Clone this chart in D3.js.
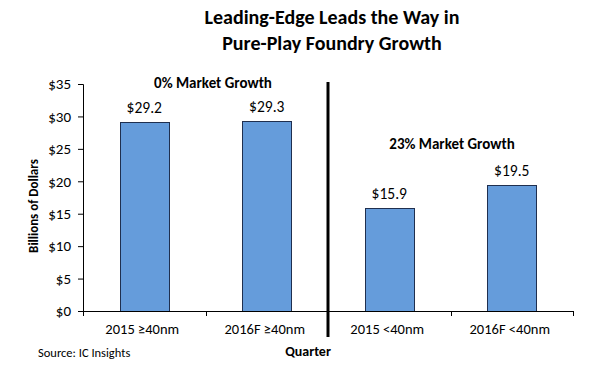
<!DOCTYPE html>
<html><head><meta charset="utf-8">
<script src="https://cdn.jsdelivr.net/npm/d3@7"></script>
<style>body{margin:0;background:#fff}svg{display:block}text{font-family:Carlito,Lato,"Open Sans",sans-serif;fill:#000}</style>
</head><body><svg id="c" width="600" height="365"></svg>
<script>
const categories = ["2015 \u226540nm", "2016F \u226540nm", "2015 <40nm", "2016F <40nm"];
const values = [29.2, 29.3, 15.9, 19.5];
const valueLabels = ["$29.2", "$29.3", "$15.9", "$19.5"];
const yTicks = [0, 5, 10, 15, 20, 25, 30, 35];
const titleLines = ["Leading-Edge Leads the Way in", "Pure-Play Foundry Growth"];
const groupNotes = ["0% Market Growth", "23% Market Growth"];

const svg = d3.select("#c");
const x = d3.scaleBand().domain(categories).range([83, 573]).paddingInner(0.6).paddingOuter(0.3);
const y = d3.scaleLinear().domain([0, 35]).range([311, 84]);

// title
svg.append("g").selectAll("text").data(titleLines).join("text")
  .attr("x", 332).attr("y", (d, i) => 24 + i * 26)
  .attr("text-anchor", "middle").style("font-weight", "bold").style("font-size", "20px").text(d => d);

// bars
svg.append("g").selectAll("rect").data(values).join("rect")
  .attr("x", (d, i) => Math.round(x(categories[i])) + 0.5)
  .attr("y", d => Math.round(y(d)) + 0.5)
  .attr("width", Math.round(x.bandwidth()))
  .attr("height", d => Math.round(y(0) - y(d)))
  .attr("fill", "#659CDB").attr("stroke", "#1F2F4F").attr("stroke-width", 1);

// value labels
svg.append("g").selectAll("text").data(values).join("text")
  .attr("x", (d, i) => x(categories[i]) + x.bandwidth() / 2)
  .attr("y", d => y(d) - 9)
  .attr("text-anchor", "middle").style("font-size", "15.5px").text((d, i) => valueLabels[i]);

// y axis
const yAxis = svg.append("g").attr("transform", "translate(83,0)")
  .call(d3.axisLeft(y).tickValues(yTicks).tickFormat(d => "$" + d).tickSize(5).tickPadding(7));
yAxis.select(".domain").attr("stroke", "#000");
yAxis.selectAll("line").attr("stroke", "#000");
yAxis.selectAll("text").style("font-size", "15px").style("font-family", "Carlito,Lato,'Open Sans',sans-serif");

// x axis
const edges = categories.map(c => x(c) - x.step() * x.paddingInner() / 2).concat([573]);
edges[0] = 83;
const xg = svg.append("g");
xg.append("line").attr("x1", 78).attr("x2", 573).attr("y1", 311.5).attr("y2", 311.5).attr("stroke", "#000");
xg.selectAll("line.t").data(edges).join("line").attr("class", "t")
  .attr("x1", d => Math.round(d) + 0.5).attr("x2", d => Math.round(d) + 0.5)
  .attr("y1", 311).attr("y2", 316).attr("stroke", "#000");
xg.selectAll("text").data(categories).join("text")
  .attr("x", d => x(d) + x.bandwidth() / 2 - 2).attr("y", 334)
  .attr("text-anchor", "middle").style("font-size", "14.5px").text(d => d);

// divider
const divX = Math.round(edges[2]);
svg.append("line").attr("x1", divX).attr("x2", divX).attr("y1", 82).attr("y2", 337)
  .attr("stroke", "#000").attr("stroke-width", 3);

// group notes
svg.append("text").attr("x", 213).attr("y", 88).attr("text-anchor", "middle")
  .style("font-weight", "bold").style("font-size", "15px").text(groupNotes[0]);
svg.append("text").attr("x", 452).attr("y", 149).attr("text-anchor", "middle")
  .style("font-weight", "bold").style("font-size", "15px").text(groupNotes[1]);

// axis titles
svg.append("text").attr("transform", "translate(38,206) rotate(-90)").attr("text-anchor", "middle")
  .style("font-weight", "bold").style("font-size", "13px").text("Billions of Dollars");
svg.append("text").attr("x", 308).attr("y", 356).attr("text-anchor", "middle")
  .style("font-weight", "bold").style("font-size", "14px").text("Quarter");
svg.append("text").attr("x", 38).attr("y", 357).style("font-size", "12.5px").text("Source: IC Insights");
</script></body></html>
